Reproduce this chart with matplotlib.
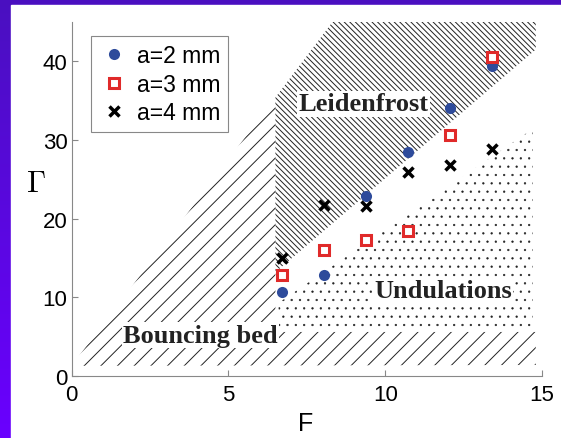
import numpy as np
import matplotlib.pyplot as plt
from matplotlib.patches import Rectangle

plt.rcParams['mathtext.fontset'] = 'cm'
plt.rcParams['hatch.linewidth'] = 0.7

# Froude number F and reduced acceleration Gamma for each grain size
F = [6.7, 8.04, 9.38, 10.72, 12.06, 13.4]
gamma_a2 = [10.7, 12.8, 22.9, 28.5, 34.1, 39.4]
gamma_a3 = [12.9, 16.0, 17.3, 18.4, 30.6, 40.6]
gamma_a4 = [15.0, 21.7, 21.6, 25.9, 26.8, 28.9]

# phase regions, outlines in (F, Gamma)
bouncing_F = [0, 6.5, 6.5, 14.8, 14.8]
bouncing_G = [1.3, 35.4, 5.6, 5.6, 1.4]
leiden_F = [6.5, 6.5, 8.32, 14.8, 14.8]
leiden_G = [13.2, 35.4, 45, 45, 41.5]
undul_F = [6.6, 6.6, 14.7, 14.7]
undul_G = [5.6, 9.3, 31.4, 5.6]

fig = plt.figure(figsize=(5.61, 4.39), dpi=100)

# slide background: purple gradient with a white panel
bg = fig.add_axes([0, 0, 1, 1], zorder=-10)
grad = np.linspace(0, 1, 256).reshape(-1, 1)
c_top = np.array([74, 16, 192]) / 255
c_bot = np.array([106, 0, 255]) / 255
img = c_top[None, None, :] * (1 - grad[:, :, None]) + c_bot[None, None, :] * grad[:, :, None]
bg.imshow(img, aspect='auto', extent=[0, 1, 0, 1])
bg.add_patch(Rectangle((11/561, 0), 1, 433/439, color='white'))
bg.set_xlim(0, 1)
bg.set_ylim(0, 1)
bg.axis('off')

ax = fig.add_axes([0.1275, 0.1412, 0.8387, 0.8064])
ax.set_facecolor('none')

ax.fill(bouncing_F, bouncing_G, facecolor='none', edgecolor='#222222',
        linewidth=0, hatch='//')
ax.fill(leiden_F, leiden_G, facecolor='none', edgecolor='#222222',
        linewidth=0, hatch='\\' * 6)
dots = ax.fill(undul_F, undul_G, facecolor='none', edgecolor='#222222',
               linewidth=0, hatch='..')[0]
if hasattr(dots, 'set_hatch_linewidth'):
    dots.set_hatch_linewidth(0.4)

ax.plot(F, gamma_a2, linestyle='none', marker='o', markersize=8,
        color='#2e4b9b', markeredgewidth=0, label='a=2 mm')
ax.plot(F, gamma_a3, linestyle='none', marker='s', markersize=7,
        markerfacecolor='white', markeredgecolor='#e02a2a',
        markeredgewidth=2.2, label='a=3 mm')
ax.plot(F, gamma_a4, linestyle='none', marker='x', markersize=6.5,
        color='black', markeredgewidth=2.5, label='a=4 mm')

box = dict(facecolor='white', edgecolor='none', pad=1)
lab = dict(family='Liberation Serif', weight='bold', size=19,
           ha='center', va='center', color='#222222', bbox=box)
ax.text(9.3, 34.6, 'Leidenfrost', **lab)
ax.text(11.85, 10.9, 'Undulations', **lab)
ax.text(4.12, 5.2, 'Bouncing bed', **lab)

ax.set_xlim(0, 15)
ax.set_ylim(0, 45)
ax.set_xticks([0, 5, 10, 15])
ax.set_yticks([0, 10, 20, 30, 40])
for s in ['top', 'right']:
    ax.spines[s].set_visible(False)
for s in ['left', 'bottom']:
    ax.spines[s].set_color('#888888')
    ax.spines[s].set_linewidth(0.8)
ax.tick_params(direction='in', length=4, width=0.8, color='#888888',
               labelsize=16)
ax.tick_params(axis='y', pad=3)
ax.tick_params(axis='x', pad=6)
for t in ax.get_xticklabels() + ax.get_yticklabels():
    t.set_family('Liberation Sans')

ax.set_xlabel('F', family='Liberation Sans', size=18)
ax.xaxis.set_label_coords(0.498, -0.099)
ax.set_ylabel(r'$\Gamma$', rotation=0, size=22, va='center', ha='center')
ax.yaxis.set_label_coords(-0.075, 0.548)

leg = ax.legend(loc='upper left', bbox_to_anchor=(0.041, 0.961),
                borderaxespad=0, fancybox=False, edgecolor='#888888',
                framealpha=1, prop={'family': 'Liberation Sans', 'size': 16.5},
                handlelength=1.3, handletextpad=0.35, labelspacing=0.25,
                borderpad=0.35)
leg.get_frame().set_linewidth(0.8)

plt.savefig('out.png', dpi=100)
